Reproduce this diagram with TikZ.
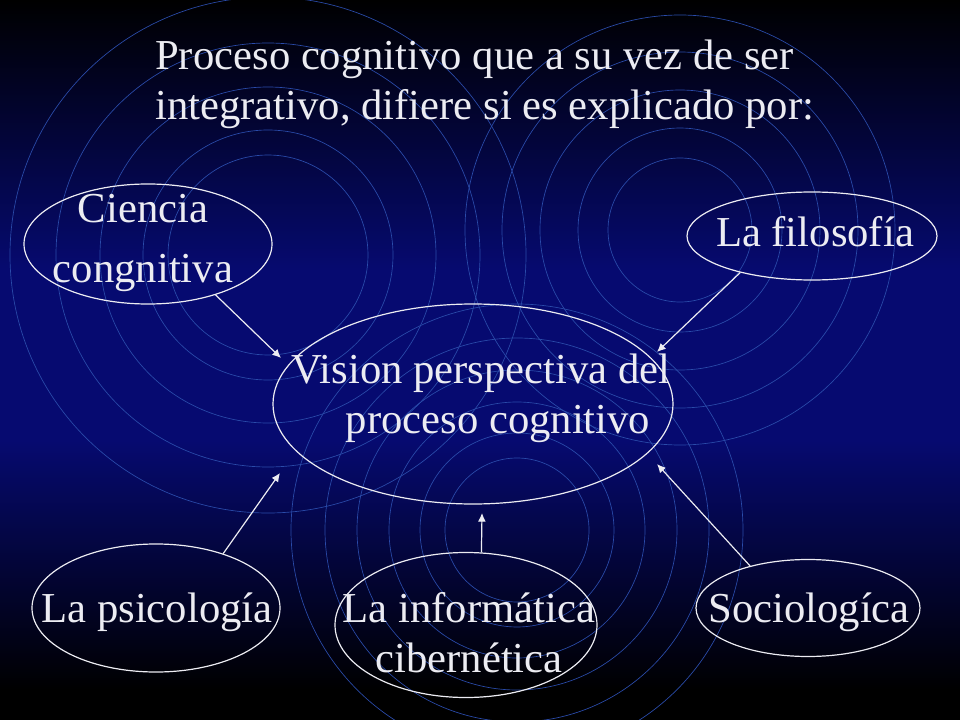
\documentclass[tikz,border=0pt]{standalone}
\usepackage{fontspec}
\setmainfont{Liberation Serif}
\usetikzlibrary{shapes.geometric}
\usetikzlibrary{arrows.meta}
\definecolor{slidenavy}{RGB}{6,10,112}
\definecolor{ringblue}{RGB}{42,75,170}
\definecolor{chalk}{RGB}{236,236,242}
\tikzset{
  oval/.style={ellipse, draw=chalk, line width=0.9pt, inner sep=0pt},
  lbl/.style={text=chalk, font=\fontsize{32}{37.5}\selectfont, inner sep=0pt, align=center},
  ring/.style={ringblue, line width=0.5pt},
  feed/.style={chalk, line width=0.9pt, -{Latex[length=6.5pt,width=6pt]}}
}

\begin{document}
\begin{tikzpicture}[x=0.75pt, y=-0.75pt]
  \useasboundingbox (0,0) rectangle (960,720);
  % background
  \fill[black] (0,0) rectangle (960,720);
  \shade[top color=black, bottom color=slidenavy] (0,0) rectangle (960,271);
  \fill[slidenavy] (0,270) rectangle (960,441);
  \shade[top color=slidenavy, bottom color=black] (0,440) rectangle (960,690);
  \begin{scope}
    \clip (0,0) rectangle (960,720);
    \foreach \r in {100,125,168,212,258}
      \draw[ring] (268,255) circle (\r);
    \foreach \r in {72,102,140,178,215}
      \draw[ring] (680,230) circle (\r);
    \foreach \r in {72,97,128,160,192,226}
      \draw[ring] (517,530) circle (\r);
  \end{scope}

  % title
  \node[lbl, align=left, anchor=base west] (title) at (155,120)
    {Proceso cognitivo que a su vez de ser\\integrativo, difiere si es explicado por:};

  % ovals
  \node[oval, minimum width=186pt, minimum height=90pt] (cien) at (148,244) {};
  \node[oval, minimum width=187.5pt, minimum height=66pt] (filo) at (812,236) {};
  \node[oval, minimum width=300pt, minimum height=150pt] (vis) at (473,404) {};
  \node[oval, minimum width=186pt, minimum height=96pt] (psic) at (156,608) {};
  \node[oval, minimum width=196.5pt, minimum height=108.75pt] (inf) at (466,625) {};
  \node[oval, minimum width=168pt, minimum height=72.75pt] (soc) at (808,608) {};

  % texts
  \node[lbl, anchor=base] (cienText) at (143,283) {Ciencia\\[8.25pt]congnitiva};
  \node[lbl, anchor=base] (filoText) at (815,247) {La filosofía};
  \node[lbl, anchor=base] (visText) at (481,433) {Vision perspectiva del\\\hspace*{25.5pt}proceso cognitivo};
  \node[lbl, anchor=base] (psicText) at (157,622) {La psicología};
  \node[lbl, anchor=base] (infText) at (469,672) {La informática\\cibernética};
  \node[lbl, anchor=base] (socText) at (809,622) {Sociologíca};

  % arrows
  \coordinate (cienTip) at (281,358);
  \coordinate (filoTip) at (657,352);
  \coordinate (psicTip) at (280,473);
  \coordinate (infTip) at (482,513);
  \coordinate (socTip) at (657,464);
  \draw[feed] (cien.323) -- (cienTip);
  \draw[feed] (filo.207) -- (filoTip);
  \draw[feed] (psic.39) -- (psicTip);
  \draw[feed] (inf.78) -- (infTip);
  \draw[feed] (soc.144) -- (socTip);
\end{tikzpicture}
\end{document}
